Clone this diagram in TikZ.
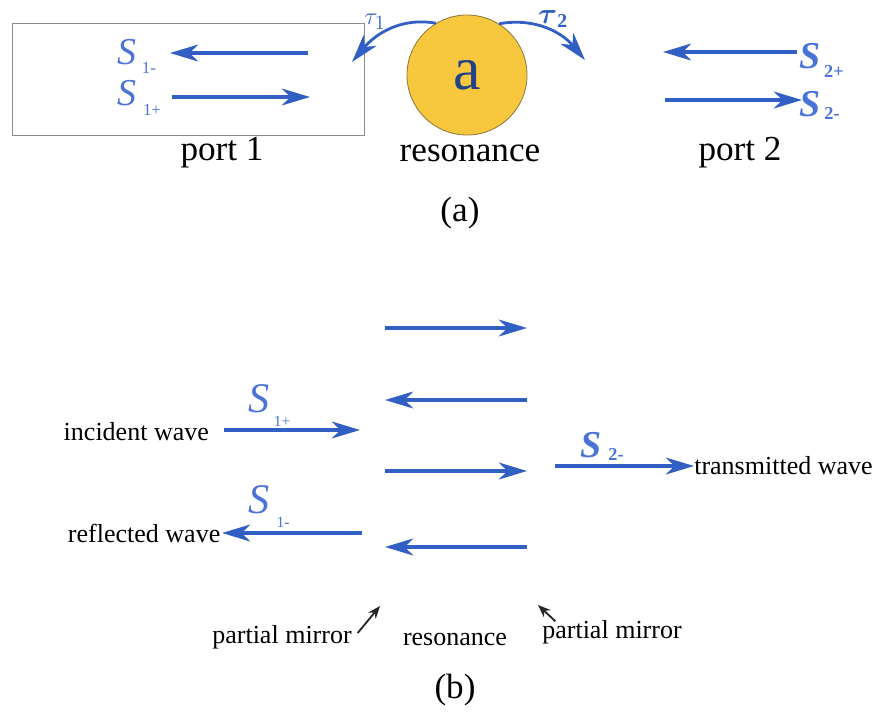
\documentclass[tikz,border=0pt]{standalone}
\usepackage{amsmath}
\usepackage{fontspec}
\setmainfont{Liberation Serif}
\usetikzlibrary{arrows.meta}
\definecolor{wave}{RGB}{50,95,195}
\definecolor{slabel}{RGB}{75,115,215}
\definecolor{cavity}{RGB}{247,200,62}
\tikzset{
  wavearrow/.style={draw=wave, line width=2.2pt, -{Stealth[length=20pt, width=12pt, inset=6pt]}},
  txt/.style={font=\fontsize{25}{28}\selectfont},
  smalltxt/.style={font=\fontsize{18.5}{21}\selectfont},
  slab/.style={text=slabel, font=\fontsize{27}{28}\selectfont\itshape, inner sep=0pt},
  sublab/.style={text=slabel, font=\fontsize{12}{14}\selectfont, inner sep=0pt},
  pointer/.style={draw=black!85, line width=1.3pt, -{Stealth[length=9pt, width=7pt]}},
}
\begin{document}
\begin{tikzpicture}[x=0.025cm, y=-0.025cm]
    \useasboundingbox (0,0) rectangle (882,719);
    % (a) coupled mode picture
    \node[draw=black!45, line width=0.6pt, minimum width=352*0.025cm, minimum height=112*0.025cm, inner sep=0pt] (port1) at (188,79) {};
    \node[circle, fill=cavity, draw=black!40!cavity!80!gray, line width=0.6pt, minimum size=120*0.025cm, inner sep=0pt,
          text=wave!70!black, font=\fontsize{44}{46}\selectfont] (res) at (467,75) {a};
    \coordinate (a1mS) at (308,53);  \coordinate (a1mE) at (170,53);
    \coordinate (a1pS) at (172,97);  \coordinate (a1pE) at (310,97);
    \coordinate (a2pS) at (797,52);  \coordinate (a2pE) at (663,52);
    \coordinate (a2mS) at (665,100); \coordinate (a2mE) at (802,100);
    \coordinate (t1E) at (352,62);   \coordinate (t2E) at (585,60);
    \draw[wavearrow] (a1mS) -- (a1mE);
    \draw[wavearrow] (a1pS) -- (a1pE);
    \draw[wavearrow] (a2pS) -- (a2pE);
    \draw[wavearrow] (a2mS) -- (a2mE);
    \draw[wavearrow, line width=2pt] (res.121) to[out=170, in=50] (t1E);
    \draw[wavearrow, line width=2pt] (res.58) to[out=10, in=130] (t2E);
    \node[slab] (s1m) at (127,52) {S};  \node[sublab] (s1mi) at (149,68) {1-};
    \node[slab] (s1p) at (127,93) {S};  \node[sublab] (s1pi) at (152,110) {1+};
    \node[slab, font=\fontsize{27}{28}\selectfont\bfseries\itshape] (s2p) at (810,56) {S};
    \node[sublab, font=\fontsize{13}{14}\selectfont\bfseries] (s2pi) at (834,71) {2+};
    \node[slab, font=\fontsize{27}{28}\selectfont\bfseries\itshape] (s2m) at (810,104) {S};
    \node[sublab, font=\fontsize{13}{14}\selectfont\bfseries] (s2mi) at (832,113) {2-};
    \node[text=wave, font=\fontsize{19}{21}\selectfont, inner sep=0pt] (tau1) at (375,22) {$\tau_1$};
    \node[text=wave, font=\fontsize{20}{22}\selectfont, inner sep=0pt] (tau2) at (553,19) {$\boldsymbol{\tau}_{\mathbf{2}}$};
    \node[txt] (lport1) at (222,153) {port 1};
    \node[txt] (lres) at (470,153) {resonance};
    \node[txt] (lport2) at (740,153) {port 2};
    \node[txt] (capa) at (460,213) {(a)};
    % (b) Fabry-Perot picture
    \foreach \y/\d [count=\i] in {328/r, 400/l, 471/r, 547/l}{
      \coordinate (cl\i) at (385,\y);
      \coordinate (cr\i) at (527,\y);
      \if\d r \draw[wavearrow] (cl\i) -- (cr\i); \else \draw[wavearrow] (cr\i) -- (cl\i); \fi
    }
    \node[smalltxt, anchor=east, inner sep=2pt] (inc) at (212,432) {incident wave};
    \node[smalltxt, anchor=east, inner sep=1pt] (refl) at (222,533) {reflected wave};
    \coordinate (incE) at (360,430);
    \coordinate (reflS) at (362,533);
    \coordinate (transS) at (555,466);
    \node[smalltxt, anchor=west, inner sep=0pt] (trans) at (694,466) {transmitted wave};
    \draw[wavearrow] (inc.east) ++(12,-2) coordinate (incS) -- (incE);
    \draw[wavearrow] (reflS) -- (refl.east);
    \draw[wavearrow] (transS) -- (trans.west);
    \node[slab, font=\fontsize{30}{32}\selectfont\itshape] (b1p) at (259,399) {S};
    \node[sublab, font=\fontsize{11}{12}\selectfont] (b1pi) at (282,421) {1+};
    \node[slab, font=\fontsize{30}{32}\selectfont\itshape] (b1m) at (259,500) {S};
    \node[sublab, font=\fontsize{11}{12}\selectfont] (b1mi) at (283,522) {1-};
    \node[slab, font=\fontsize{27}{28}\selectfont\bfseries\itshape] (b2m) at (591,445) {S};
    \node[sublab, font=\fontsize{13}{14}\selectfont\bfseries] (b2mi) at (616,454) {2-};
    \node[smalltxt] (pm1) at (282,637) {partial mirror};
    \node[smalltxt] (lresb) at (455,639) {resonance};
    \node[smalltxt] (pm2) at (612,632) {partial mirror};
    \coordinate (pm1E) at (380,606);
    \coordinate (pm2E) at (538,605);
    \draw[pointer] (pm1.east) ++(1,-4) -- (pm1E);
    \draw[pointer] (pm2.north west) ++(18,6) -- (pm2E);
    \node[txt] (capb) at (455,690) {(b)};
\end{tikzpicture}
\end{document}
